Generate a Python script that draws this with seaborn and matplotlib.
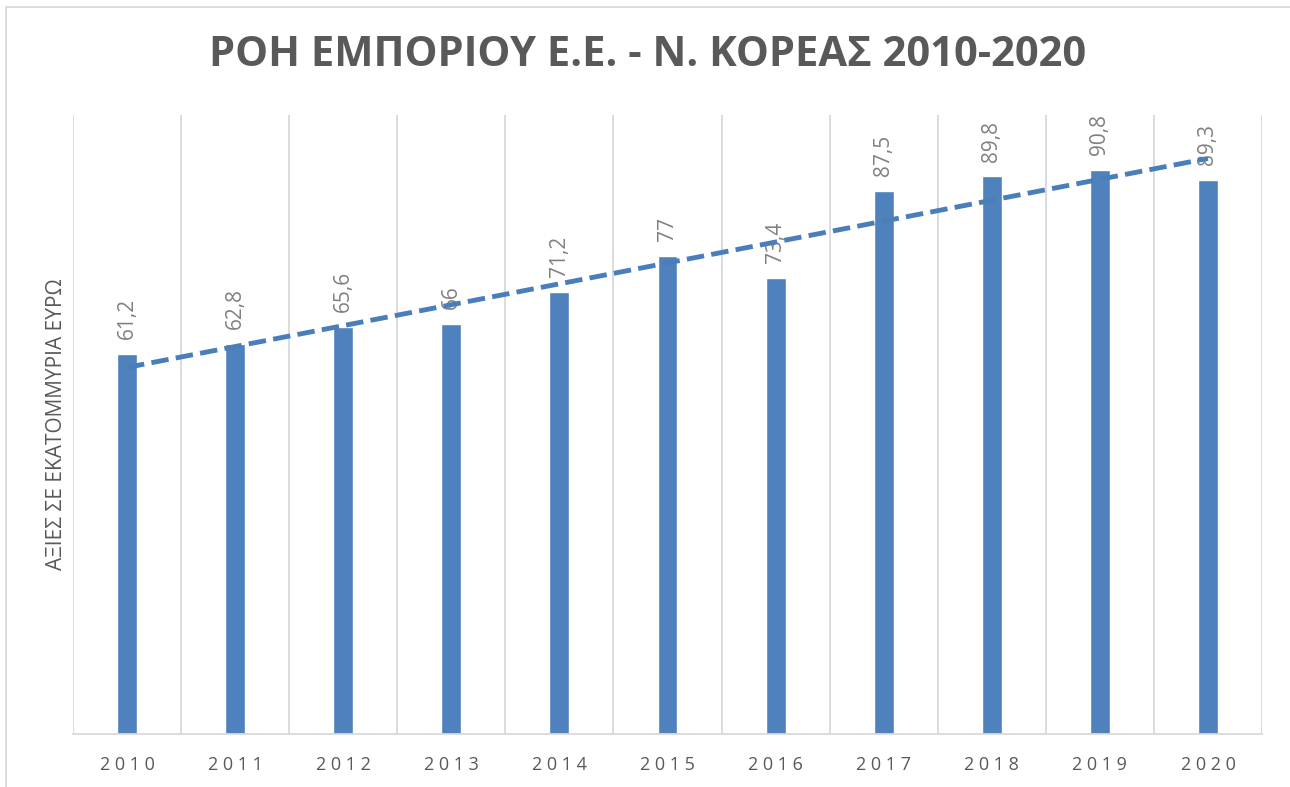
import numpy as np
import pandas as pd
import seaborn as sns
import matplotlib.pyplot as plt
from matplotlib.lines import Line2D

years = ['2010', '2011', '2012', '2013', '2014', '2015', '2016', '2017', '2018', '2019', '2020']
values = [61.2, 62.8, 65.6, 66, 71.2, 77, 73.4, 87.5, 89.8, 90.8, 89.3]
labels = ['61,2', '62,8', '65,6', '66', '71,2', '77', '73,4', '87,5', '89,8', '90,8', '89,3']

title = 'ΡΟΗ ΕΜΠΟΡΙΟΥ Ε.Ε. - Ν. ΚΟΡΕΑΣ 2010-2020'
ylabel = 'ΑΞΙΕΣ ΣΕ ΕΚΑΤΟΜΜΥΡΙΑ ΕΥΡΩ'

sns.set_style('white')
plt.rcParams['font.family'] = ['Open Sans', 'DejaVu Sans']

df = pd.DataFrame({'year': years, 'value': values})

fig = plt.figure(figsize=(12.9, 7.87), dpi=100)
ax = fig.add_axes([73 / 1290, 1 - 734 / 787, (1262 - 73) / 1290, (734 - 115) / 787])

sns.barplot(data=df, x='year', y='value', color='#4F81BD', saturation=1,
            width=0.185, ax=ax)

# linear trend line
xs = np.arange(len(values))
k, b = np.polyfit(xs, values, 1)
ax.plot(xs, k * xs + b, color='#4A7EBB', lw=3.5, ls=(0, (3.6, 1.5)), zorder=3)

# value labels
for i, (v, t) in enumerate(zip(values, labels)):
    ax.text(i, v + 2.4, t, rotation=90, ha='center', va='bottom',
            fontsize=15, color='#808080', zorder=2)

ax.set_xlim(-0.5, len(years) - 0.5)
ax.set_ylim(0, 99.7)
ax.set_yticks([])
for x in np.arange(-0.5, len(years), 1):
    ax.axvline(x, color='#D9D9D9', lw=1.3, zorder=0)

for s in ['top', 'right', 'left']:
    ax.spines[s].set_visible(False)
ax.spines['bottom'].set_color('#D9D9D9')
ax.spines['bottom'].set_linewidth(1.3)

ax.set_xlabel('')
ax.set_xticks(range(len(years)))
ax.set_xticklabels([' '.join(y) for y in years], fontsize=13, color='#595959')
ax.tick_params(axis='x', length=0, pad=16)

ax.set_ylabel(ylabel, fontsize=15, color='#595959', labelpad=4)

fig.text(648 / 1290, 1 - 56 / 787, title, ha='center', va='center',
         fontsize=30, fontweight='bold', color='#595959')

# chart area border (left and top edges visible)
fig.lines.append(Line2D([6 / 1290, 6 / 1290, 1.0], [0, 1 - 7 / 787, 1 - 7 / 787],
                        transform=fig.transFigure, color='#D9D9D9', lw=1.3))

fig.savefig('out.png', dpi=100)
